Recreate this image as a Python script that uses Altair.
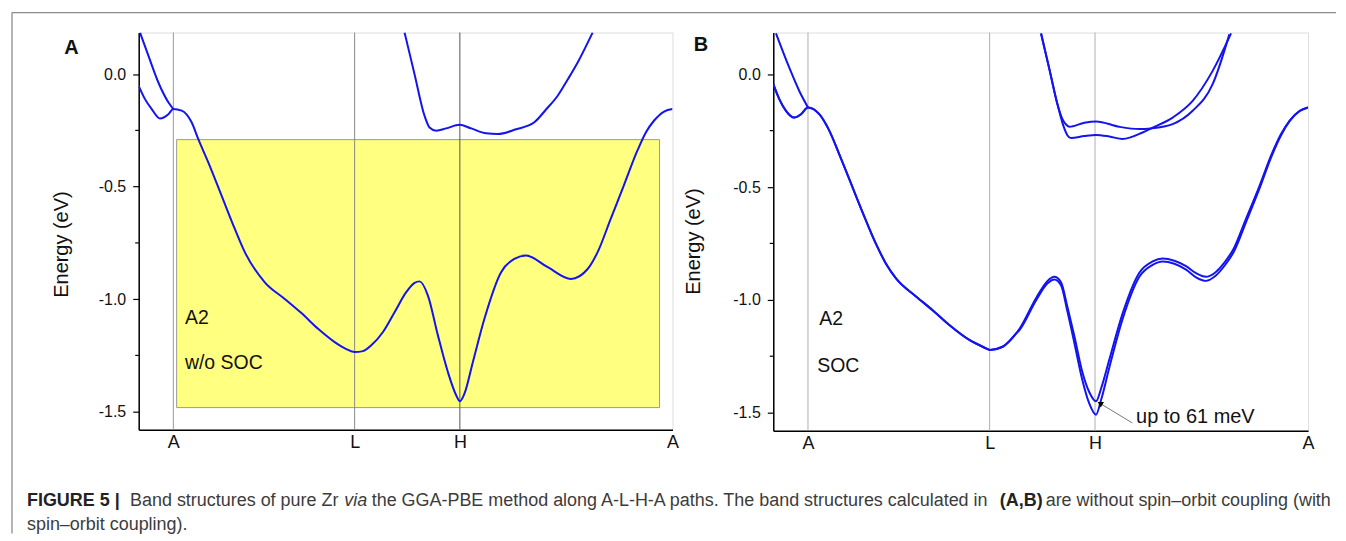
import altair as alt
import pandas as pd

# ---------------- data ----------------
# high-symmetry points along the k-path (path coordinate)
kpoint_pos = [0.0, 181.6, 287.0, 500.0]
kpoint_labels = ["A", "L", "H", "A"]
x_domain = [-34.7, 500.0]
y_domain = [-1.58, 0.185]
y_major = [0.0, -0.5, -1.0, -1.5]
y_minor = [-0.25, -0.75, -1.25]

# ---- Panel A : without SOC ----
a_b0_k = [-33.4, -25.0, -15.0, -5.0, 0.0]
a_b0_e = [0.185, 0.082, -0.037, -0.125, -0.155]

a_b1_k = [-34.7, -28.4, -21.7, -13.4, -5.0, 0.0, 8.3, 18.3, 25.0, 35.0, 48.3, 61.6, 71.6,
          91.6, 111.6, 128.3, 145.0, 161.6, 173.3, 181.6, 190.0, 198.3, 210.0, 221.6,
          233.3, 241.6, 246.6, 255.0, 265.0, 275.0, 283.3, 287.0, 291.6, 300.0, 311.6,
          328.3, 341.6, 353.3, 375.0, 398.3, 415.0, 425.0, 438.3, 451.3, 465.0, 473.3,
          481.6, 491.6, 500.0]
a_b1_e = [-0.052, -0.111, -0.155, -0.197, -0.178, -0.155, -0.162, -0.214, -0.289, -0.392,
          -0.540, -0.688, -0.791, -0.925, -0.999, -1.062, -1.132, -1.191, -1.222, -1.235,
          -1.231, -1.205, -1.146, -1.058, -0.969, -0.928, -0.921, -0.984, -1.161, -1.324,
          -1.427, -1.454, -1.420, -1.280, -1.087, -0.880, -0.821, -0.806, -0.858, -0.910,
          -0.866, -0.791, -0.641, -0.494, -0.338, -0.259, -0.206, -0.166, -0.155]

a_cb_k = [231.6, 241.6, 251.6, 256.6, 263.3, 273.3, 286.6, 298.3, 313.3, 325.0, 343.3,
          361.6, 373.3, 385.0, 395.0, 405.0, 420.0]
a_cb_e = [0.185, 0.0, -0.185, -0.237, -0.251, -0.241, -0.225, -0.241, -0.263, -0.266,
          -0.245, -0.214, -0.157, -0.096, -0.024, 0.052, 0.185]

# yellow highlight box (k from, k to, E top, E bottom)
box_k = [3.3, 487.0]
box_e = [-0.291, -1.482]

# ---- Panel B : with SOC ----
b_b0_k = [-32.0, -18.7, -8.7, 0.0]
b_b0_e = [0.181, 0.029, -0.074, -0.147]

b_common_k = [-34.7, -28.7, -22.0, -13.7, -7.0, 0.0, 11.3, 21.3, 31.3, 41.3, 54.6, 68.0,
              78.0, 88.0, 108.0, 124.6, 141.3, 161.3, 174.6, 182.0, 194.6, 208.0]
b_common_e = [-0.044, -0.110, -0.162, -0.192, -0.177, -0.147, -0.177, -0.250, -0.355,
              -0.465, -0.612, -0.752, -0.840, -0.905, -0.985, -1.046, -1.112, -1.178,
              -1.208, -1.222, -1.208, -1.150]

b_split_k = [211.3, 228.0, 239.3, 246.3, 253.0, 259.3, 266.3, 274.3, 281.3, 288.0, 293.3,
             301.3, 314.6, 331.3, 344.6, 354.6, 366.3, 378.0, 388.0, 398.0, 406.3, 416.3,
             426.0, 438.0, 451.0, 464.0, 473.0, 481.6, 491.6, 500.0]
b_split_up = [-1.13, -0.993, -0.917, -0.898, -0.922, -1.03, -1.16, -1.32, -1.41, -1.45,
              -1.39, -1.265, -1.06, -0.88, -0.83, -0.817, -0.827, -0.851, -0.882, -0.898,
              -0.882, -0.835, -0.770, -0.640, -0.500, -0.350, -0.265, -0.205, -0.162, -0.147]
b_split_lo = [-1.135, -1.003, -0.928, -0.910, -0.935, -1.05, -1.19, -1.355, -1.46, -1.509,
              -1.44, -1.30, -1.085, -0.898, -0.845, -0.830, -0.840, -0.866, -0.900, -0.916,
              -0.898, -0.850, -0.785, -0.655, -0.512, -0.358, -0.270, -0.208, -0.163, -0.147]

b_c1_k = [233.0, 241.3, 249.3, 254.3, 258.3, 261.3, 276.3, 288.0, 311.3, 331.3, 343.0,
          364.6, 384.6, 404.6, 421.3]
b_c1_e = [0.181, 0.024, -0.131, -0.198, -0.224, -0.233, -0.215, -0.209, -0.233, -0.243,
          -0.240, -0.221, -0.162, -0.044, 0.177]
b_c2_k = [233.0, 241.3, 249.3, 255.3, 259.3, 263.0, 276.3, 288.0, 301.3, 314.6, 334.6,
          343.0, 364.6, 384.6, 404.6, 423.0]
b_c2_e = [0.181, 0.024, -0.131, -0.228, -0.270, -0.283, -0.274, -0.269, -0.276, -0.287,
          -0.258, -0.240, -0.192, -0.118, 0.015, 0.181]

# annotation in B: arrow tail -> head, label
arrow_k = [324.3, 292.0]
arrow_e = [-1.546, -1.459]
note_text = "up to 61 meV"

caption_bold1 = "FIGURE 5 |"
caption_p1 = "Band structures of pure Zr"
caption_it = "via"
caption_p2 = "the GGA-PBE method along A-L-H-A paths. The band structures calculated in"
caption_bold2 = "(A,B)"
caption_p3 = "are without spin\u2013orbit coupling (with"
caption_line2 = "spin\u2013orbit coupling)."

# ---------------- styling ----------------
FONT = "Liberation Sans"
BLUE = "#1414ee"


def band_frame(parts):
    rows = []
    for name, ks, es in parts:
        for k, e in zip(ks, es):
            rows.append({"band": name, "k": k, "E": e})
    return pd.DataFrame(rows)


def label_expr():
    mids = [(kpoint_pos[i] + kpoint_pos[i + 1]) / 2 for i in range(len(kpoint_pos) - 1)]
    expr = "'%s'" % kpoint_labels[-1]
    for i in reversed(range(len(mids))):
        expr = "datum.value < %g ? '%s' : (%s)" % (mids[i], kpoint_labels[i], expr)
    return expr


xscale = alt.Scale(domain=x_domain, nice=False, zero=False)
yscale = alt.Scale(domain=y_domain, nice=False, zero=False)
xaxis = alt.Axis(values=kpoint_pos, labelExpr=label_expr(), ticks=False, grid=False,
                 title=None, labelFontSize=18, labelPadding=4, labelColor="#111",
                 labelFlush=False, labelOverlap=False,
                 domainColor="black", domainWidth=1.5, labelFont=FONT)


def yaxis(tx, ty):
    return alt.Axis(values=y_major,
                    labelExpr="replace(format(datum.value, '.1f'), '\u2212', '-')",
                    grid=False, tickSize=6, tickColor="black", tickWidth=1.2,
                    labelFontSize=16, labelPadding=7, labelColor="#111", labelFont=FONT,
                    labelFlush=False, labelOverlap=False,
                    title="Energy (eV)", titleFontSize=20, titleFontWeight="normal",
                    titleFont=FONT, titleColor="#111", titleAngle=270, titleX=tx, titleY=ty,
                    titleAlign="center", titleBaseline="middle",
                    domainColor="black", domainWidth=1.5)


def X(field, ax):
    return alt.X(field, type="quantitative", scale=xscale, axis=ax)


def Y(field, ax):
    return alt.Y(field, type="quantitative", scale=yscale, axis=ax)


def panel(bands_df, rule_cols, texts, letter, letter_xy, ya, extra_before=None, extra_after=None,
          width=535, height=398):
    layers = []
    if extra_before is not None:
        layers += extra_before
    rules_df = pd.DataFrame({"k": kpoint_pos[:3], "col": rule_cols})
    layers.append(alt.Chart(rules_df).mark_rule(strokeWidth=1).encode(
        x=X("k", xaxis), color=alt.Color("col:N", scale=None)))
    layers.append(alt.Chart(bands_df).mark_line(interpolate="monotone", clip=True,
                                                 strokeWidth=2, color=BLUE).encode(
        x=X("k", xaxis), y=Y("E", ya), detail="band:N"))
    layers.append(alt.Chart(pd.DataFrame({"E": y_minor})).mark_rule(color="black", strokeWidth=1.2).encode(
        y=Y("E", ya), x=alt.value(-3.5), x2=alt.value(0)))
    tdf = pd.DataFrame(texts, columns=["k", "E", "t"])
    layers.append(alt.Chart(tdf).mark_text(align="left", baseline="alphabetic", fontSize=19.5,
                                           font=FONT, color="#111").encode(
        x=X("k", xaxis), y=Y("E", ya), text="t:N"))
    layers.append(alt.Chart(pd.DataFrame({"t": [letter]})).mark_text(
        align="center", baseline="middle", fontSize=20, fontWeight="bold", font=FONT,
        color="#111").encode(x=alt.value(letter_xy[0]), y=alt.value(letter_xy[1]), text="t:N"))
    if extra_after is not None:
        layers += extra_after
    return alt.layer(*layers).properties(width=width, height=height)


# ---------- Panel A ----------
dfA = band_frame([("b0", a_b0_k, a_b0_e), ("b1", a_b1_k, a_b1_e), ("cb", a_cb_k, a_cb_e)])
yaA = yaxis(-77, 212)
box = alt.Chart(pd.DataFrame({"k": [box_k[0]], "k2": [box_k[1]], "E": [box_e[0]], "E2": [box_e[1]]})
                ).mark_rect(fill="#ffff80", stroke="#9a9a9a", strokeWidth=1).encode(
    x=X("k", xaxis), x2="k2", y=Y("E", yaA), y2="E2")

one = pd.DataFrame({"t": [""]})
frame_top = alt.Chart(one).mark_rule(color="#8c8c8c", strokeWidth=1.3).encode(
    x=alt.value(-127), x2=alt.value(1200), y=alt.value(-20))
frame_left = alt.Chart(one).mark_rule(color="#8c8c8c", strokeWidth=1.3).encode(
    x=alt.value(-127), y=alt.value(-20), y2=alt.value(502))


def cap(text, x, y, weight="normal", style="normal", color="#3c3c3c"):
    return alt.Chart(pd.DataFrame({"t": [text]})).mark_text(
        align="left", baseline="alphabetic", fontSize=18, font=FONT, fontWeight=weight,
        fontStyle=style, color=color).encode(x=alt.value(x), y=alt.value(y), text="t:N")


caption = [
    cap(caption_bold1, -112, 475, weight="bold", color="#222"),
    cap(caption_p1, -8.7, 475),
    cap(caption_it, 206, 475, style="italic"),
    cap(caption_p2, 233.5, 475),
    cap(caption_bold2, 863, 475, weight="bold", color="#222"),
    cap(caption_p3, 909, 475),
    cap(caption_line2, -112, 498.3),
]

panelA = panel(dfA, ["#9a9a9a", "#8a8a8a", "#555555"],
               [(11.6, -1.11, "A2"), (11.6, -1.312, "w/o SOC")],
               "A", (-67.5, 15.5), yaA,
               extra_before=[box], extra_after=[frame_top, frame_left] + caption,
               width=535, height=398)

# ---------- Panel B ----------
b_up_k = b_common_k + b_split_k
b_up_e = b_common_e + b_split_up
b_lo_k = b_common_k + b_split_k
b_lo_e = b_common_e + b_split_lo
dfB = band_frame([("b0", b_b0_k, b_b0_e), ("up", b_up_k, b_up_e), ("lo", b_lo_k, b_lo_e),
                  ("c1", b_c1_k, b_c1_e), ("c2", b_c2_k, b_c2_e)])
yaB = yaxis(-80, 209)

arrow_line = alt.Chart(pd.DataFrame({"k": [arrow_k[0]], "k2": [arrow_k[1]],
                                     "E": [arrow_e[0]], "E2": [arrow_e[1]]})).mark_rule(
    color="#777777", strokeWidth=1).encode(x=X("k", xaxis), x2="k2", y=Y("E", yaB), y2="E2")
arrow_head = alt.Chart(pd.DataFrame({"k": [arrow_k[1]], "E": [arrow_e[1]]})).mark_point(
    shape="triangle-up", size=40, filled=True, color="black", opacity=1, angle=301).encode(
    x=X("k", xaxis), y=Y("E", yaB))
note = alt.Chart(pd.DataFrame({"k": [328.0], "E": [-1.546], "t": [note_text]})).mark_text(
    align="left", baseline="alphabetic", fontSize=20, font=FONT, color="#111").encode(
    x=X("k", xaxis), y=Y("E", yaB), text="t:N")

panelB = panel(dfB, ["#b0b0b0", "#b0b0b0", "#b0b0b0"],
               [(11.3, -1.112, "A2"), (9.3, -1.318, "SOC")],
               "B", (-72.6, 12.7), yaB,
               extra_after=[arrow_line, arrow_head, note],
               width=536, height=399)

chart = alt.hconcat(panelA, panelB, spacing=101, bounds="flush").properties(
    padding={"left": 2, "top": 2, "right": 0, "bottom": 0},
    background="white",
).configure_view(stroke="black", strokeWidth=1.5).configure(font=FONT)

chart.save("out.html", embed_options={"renderer": "svg", "actions": False})
